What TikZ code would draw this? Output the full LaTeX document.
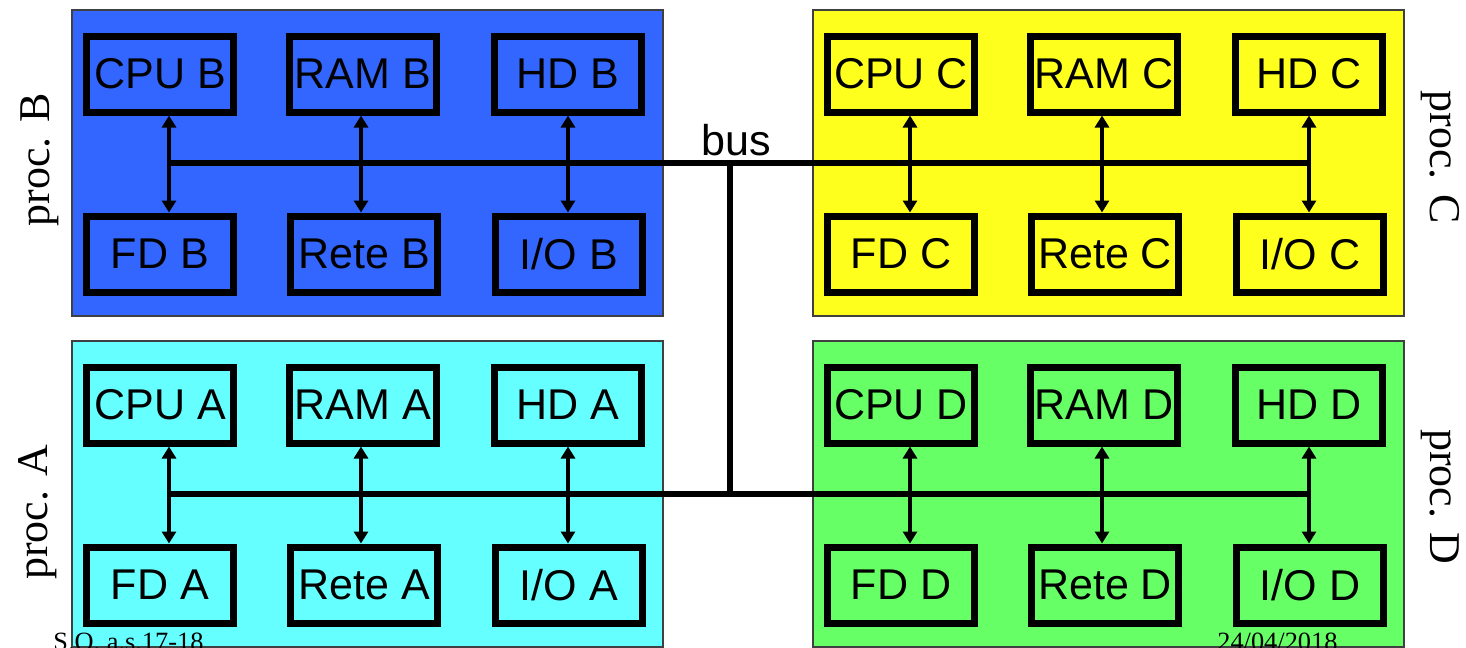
\documentclass[tikz,border=0pt]{standalone}
\usepackage{fontspec}
\setmainfont{Liberation Serif}
\newfontfamily\arialfont{Liberation Sans}
\usetikzlibrary{arrows.meta}
\definecolor{procblue}{RGB}{51,102,255}
\definecolor{procyellow}{RGB}{255,255,30}
\definecolor{proccyan}{RGB}{102,255,255}
\definecolor{procgreen}{RGB}{102,255,102}

\begin{document}
\begin{tikzpicture}[x=0.2mm,y=-0.2mm,
	panel/.style={draw=black!75, line width=0.3mm, minimum width=118.2mm, minimum height=61.2mm, inner sep=0pt, outer sep=0pt, anchor=north west},
	unit/.style={draw=black, line width=1.4mm, minimum width=29.4mm, minimum height=15.2mm, inner sep=0pt, font=\arialfont\fontsize{24.5}{26}\selectfont},
	link/.style={line width=0.9mm, {Triangle[length=2.4mm,width=2.8mm]}-{Triangle[length=2.4mm,width=2.8mm]}},
	bus/.style={line width=1.1mm},
	proclabel/.style={font=\fontsize{25}{27}\selectfont},
	footer/.style={font=\fontsize{15}{17}\selectfont, anchor=base west, inner sep=0pt}]
				\useasboundingbox (0,0) rectangle (1466,647);
				% one panel for each processor
				\foreach \p/\x/\y/\c in {B/72/10/procblue, C/813/10/procyellow, A/72/341/proccyan, D/813/341/procgreen}{
					\node[panel, fill=\c] (panel\p) at (\x,\y) {};
					\node[unit] (cpu\p) at (\x+88,\y+64) {CPU \p};
					\node[unit] (ram\p) at (\x+291,\y+64) {RAM \p};
					\node[unit] (hd\p) at (\x+496,\y+64) {HD \p};
					\node[unit] (fd\p) at (\x+88,\y+244) {FD \p};
					\node[unit] (rete\p) at (\x+292,\y+244) {Rete \p};
					\node[unit] (io\p) at (\x+497,\y+244) {I/O \p};
					\draw[link] ([xshift=1.8mm]cpu\p.south) -- ([xshift=1.8mm]fd\p.north);
					\draw[link] ([xshift=-0.4mm]ram\p.south) -- ([xshift=-0.4mm]ram\p.south |- rete\p.north);
					\draw[link] (hd\p.south) -- (hd\p.south |- io\p.north);
					\coordinate (left\p) at (\x+97,\y+153);
					\coordinate (right\p) at (\x+494,\y+153);
				}
				% the bus
				\draw[bus] (leftB) -- (rightC);
				\draw[bus] (leftA) -- (rightD);
				\coordinate (junction) at (730,163);
				\draw[bus] (junction) -- (junction |- leftA);
				\node[font=\arialfont\fontsize{24.5}{26}\selectfont, anchor=base, inner sep=0pt] (buslabel) at (736,155) {bus};
				% side labels
				\node[proclabel, rotate=90] (procB) at (40,160) {proc. B};
				\node[proclabel, rotate=90] (procA) at (38,512) {proc. A};
				\node[proclabel, rotate=-90] (procC) at (1440,157) {proc. C};
				\node[proclabel, rotate=-90] (procD) at (1440,497) {proc. D};
				\node[footer] (course) at (53,650) {S.O. a.s.17-18};
				\node[footer] (date) at (1217,650) {24/04/2018};
			\end{tikzpicture}
\end{document}
